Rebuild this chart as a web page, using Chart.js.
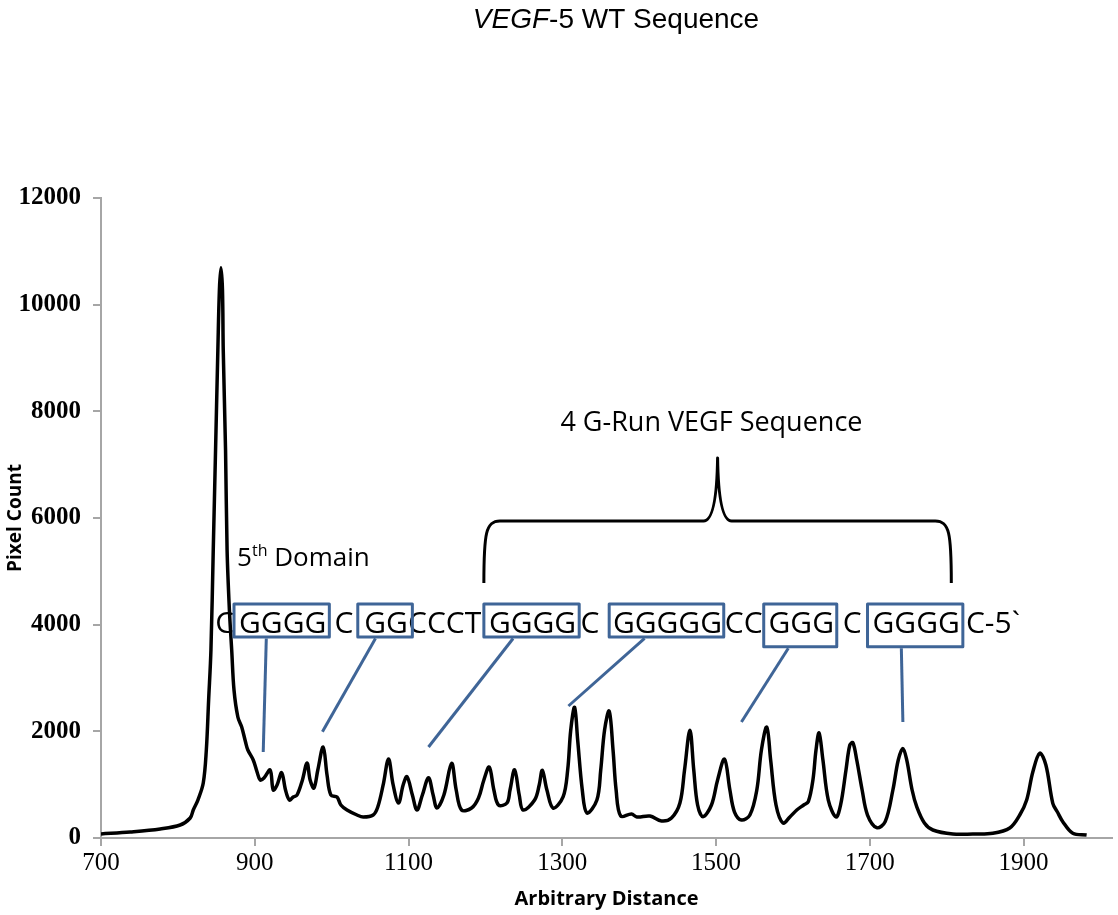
<!DOCTYPE html>
<html>
<head>
<meta charset="utf-8">
<script src="https://cdn.jsdelivr.net/npm/chart.js@4.4.0/dist/chart.umd.min.js"></script>
<style>
  html, body { margin: 0; padding: 0; background: #fff; }
  #wrap { width: 1118px; height: 915px; }
</style>
</head>
<body>
<div id="wrap"><canvas id="gel-chart" width="1118" height="915"></canvas></div>
<script>
// Densitometry trace
const distance = [
    700, 738, 777, 803, 816, 820, 826, 833, 837, 840,
    843, 846, 849, 852, 854, 856, 858, 859, 862, 864,
    867, 870, 873, 878, 883, 888, 891, 898, 903, 907,
    912, 920, 924, 929, 935, 940, 945, 950, 955, 962,
    968, 972, 977, 982, 989, 994, 999, 1007, 1012, 1020,
    1033, 1041, 1054, 1060, 1067, 1074, 1080, 1087, 1093, 1098,
    1105, 1111, 1118, 1126, 1132, 1137, 1146, 1156, 1162, 1169,
    1182, 1191, 1198, 1205, 1211, 1217, 1228, 1232, 1238, 1244,
    1249, 1264, 1270, 1274, 1280, 1288, 1301, 1307, 1311, 1316,
    1320, 1326, 1332, 1345, 1350, 1355, 1361, 1366, 1370, 1376,
    1390, 1397, 1414, 1429, 1442, 1453, 1459, 1466, 1471, 1476,
    1483, 1494, 1502, 1511, 1518, 1524, 1533, 1544, 1553, 1559,
    1566, 1571, 1578, 1587, 1596, 1605, 1614, 1620, 1626, 1630,
    1634, 1639, 1646, 1656, 1662, 1669, 1674, 1678, 1683, 1690,
    1697, 1709, 1720, 1730, 1737, 1743, 1748, 1755, 1761, 1771,
    1782, 1808, 1834, 1860, 1882, 1895, 1904, 1912, 1921, 1929,
    1938, 1944, 1951, 1964, 1982
];
const pixelCount = [
    75, 112, 169, 244, 375, 525, 712, 1031, 1650, 2588,
    3525, 5400, 7275, 9150, 10275, 10690, 10275, 9150, 7275, 5400,
    4275, 3525, 2775, 2269, 2081, 1800, 1650, 1463, 1238, 1088,
    1125, 1275, 900, 994, 1225, 900, 712, 769, 806, 1088,
    1406, 1088, 938, 1275, 1706, 1181, 806, 769, 619, 525,
    431, 394, 431, 581, 994, 1480, 994, 656, 994, 1150,
    806, 525, 806, 1130, 806, 562, 806, 1400, 900, 525,
    562, 750, 1088, 1330, 900, 619, 656, 900, 1280, 806,
    525, 712, 994, 1270, 900, 562, 769, 1275, 2025, 2450,
    1838, 900, 469, 712, 1275, 2025, 2380, 1650, 900, 412,
    450, 394, 412, 319, 375, 656, 1275, 2020, 1275, 619,
    400, 619, 1088, 1480, 900, 487, 337, 431, 900, 1650,
    2080, 1463, 619, 281, 394, 525, 619, 681, 1088, 1650,
    1970, 1463, 712, 394, 619, 1275, 1744, 1787, 1463, 900,
    431, 193, 306, 900, 1463, 1680, 1463, 900, 587, 281,
    150, 75, 75, 88, 187, 431, 712, 1238, 1590, 1369,
    650, 487, 306, 88, 56
];

const xTicks = [700, 900, 1100, 1300, 1500, 1700, 1900];
const yTicks = [0, 2000, 4000, 6000, 8000, 10000, 12000];

const titleItalic = 'VEGF';
const titleRest = '-5 WT Sequence';
const braceLabel = '4 G-Run VEGF Sequence';

// Sequence drawn over the trace, G-runs boxed (positions are in data units)
const gRuns = ['GGGG', 'GG', 'GGGG', 'GGGGG', 'GGG', 'GGGG'];
const gRunLeft = [873, 1034, 1198, 1361, 1562, 1697];
const gRunRight = [997, 1105, 1322, 1510, 1657, 1821];
const gRunBottom = [3769, 3769, 3769, 3769, 3587, 3587];
const gRunPeakX = [911, 988, 1126, 1308, 1533, 1743];
const gRunPeakY = [1612, 1993, 1706, 2475, 2175, 2175];
const gRunTopX = [915, 1057, 1236, 1407, 1594, 1741];
const spacers = ['C', 'C', 'CCCT', 'C', 'CC', 'C'];
const spacerX = [861, 1016, 1147, 1336, 1536, 1677];

const BLUE = '#3F6597';
const AXIS_GREY = '#A6A6A6';

/**
 * Draws the title, the brace, the sequence and its callout lines
 */
const annotationPlugin = {
    id: 'gelAnnotations',
    afterDatasetsDraw(chart) {
        const ctx = chart.ctx;
        const X = v => chart.scales.x.getPixelForValue(v);
        const Y = v => chart.scales.y.getPixelForValue(v);

        ctx.save();
        ctx.fillStyle = '#000';
        ctx.textBaseline = 'alphabetic';

        // title with italic gene name
        ctx.font = 'italic 28px "Liberation Sans"';
        const w1 = ctx.measureText(titleItalic).width;
        ctx.font = '28px "Liberation Sans"';
        const w2 = ctx.measureText(titleRest).width;
        let tx = 616 - (w1 + w2) / 2;
        ctx.font = 'italic 28px "Liberation Sans"';
        ctx.fillText(titleItalic, tx, 28);
        ctx.font = '28px "Liberation Sans"';
        ctx.fillText(titleRest, tx + w1, 28);

        // brace label
        ctx.textAlign = 'center';
        ctx.font = '27px "Open Sans"';
        ctx.fillText(braceLabel, X(1494), Y(7631));

        // brace
        const xl = X(1198), xr = X(1806), xm = X(1502);
        const yb = Y(5944), ye = Y(4781), yt = Y(7125);
        ctx.strokeStyle = '#000';
        ctx.lineWidth = 3;
        ctx.lineJoin = 'round';
        ctx.beginPath();
        ctx.moveTo(xl, ye);
        ctx.bezierCurveTo(xl, yb + 12, xl + 2, yb, xl + 16, yb);
        ctx.lineTo(xm - 14, yb);
        ctx.quadraticCurveTo(xm - 1, yb, xm, yt);
        ctx.quadraticCurveTo(xm + 1, yb, xm + 14, yb);
        ctx.lineTo(xr - 16, yb);
        ctx.bezierCurveTo(xr - 2, yb, xr, yb + 12, xr, ye);
        ctx.stroke();

        // 5th Domain label
        ctx.textAlign = 'left';
        let dx = X(877);
        const dy = Y(5100);
        ctx.font = '26px "Open Sans"';
        ctx.fillText('5', dx, dy);
        dx += ctx.measureText('5').width;
        ctx.font = '16px "Open Sans"';
        ctx.fillText('th', dx, dy - 10);
        dx += ctx.measureText('th').width;
        ctx.font = '26px "Open Sans"';
        ctx.fillText(' Domain', dx, dy);

        // sequence
        const baseY = Y(3844);
        ctx.font = '30px "Open Sans"';
        ctx.textAlign = 'center';
        spacers.forEach((s, i) => ctx.fillText(s, X(spacerX[i]), baseY));
        ctx.textAlign = 'left';
        ctx.fillText('C-5`', X(1825), baseY);
        ctx.textAlign = 'center';
        gRuns.forEach((g, i) => {
            ctx.fillText(g, (X(gRunLeft[i]) + X(gRunRight[i])) / 2 + 1, baseY);
        });

        // boxes and callout lines
        ctx.strokeStyle = BLUE;
        ctx.lineWidth = 3;
        ctx.lineCap = 'butt';
        gRuns.forEach((g, i) => {
            const bx = X(gRunLeft[i]), bw = X(gRunRight[i]) - bx;
            const by = Y(4388), bh = Y(gRunBottom[i]) - by;
            ctx.strokeRect(bx, by, bw, bh);
            ctx.beginPath();
            ctx.moveTo(X(gRunTopX[i]), Y(gRunBottom[i]) + 1.5);
            ctx.lineTo(X(gRunPeakX[i]), Y(gRunPeakY[i]));
            ctx.stroke();
        });

        ctx.restore();
    }
};

function initGelChart() {
    const canvas = document.getElementById('gel-chart');
    const context = canvas.getContext('2d');

    const points = distance.map((d, i) => ({ x: d, y: pixelCount[i] }));

    new Chart(context, {
        type: 'line',
        data: {
            datasets: [{
                label: 'Pixel Count',
                data: points,
                borderColor: '#000',
                borderWidth: 3.5,
                pointRadius: 0,
                tension: 0.35,
                fill: false
            }]
        },
        options: {
            responsive: false,
            animation: false,
            layout: {
                padding: { top: 198, right: 6, left: 0, bottom: 0 }
            },
            plugins: {
                legend: { display: false },
                tooltip: { enabled: false }
            },
            scales: {
                x: {
                    type: 'linear',
                    min: 700,
                    max: 2015,
                    afterBuildTicks: axis => { axis.ticks = xTicks.map(v => ({ value: v })); },
                    afterFit: axis => { axis.height = 77; },
                    grid: {
                        drawOnChartArea: false,
                        tickLength: 8,
                        color: AXIS_GREY,
                        lineWidth: 2
                    },
                    border: { color: AXIS_GREY, width: 2 },
                    ticks: {
                        autoSkip: false,
                        maxRotation: 0,
                        padding: 2,
                        color: '#000',
                        font: { family: '"Liberation Serif"', size: 25 },
                        callback: value => String(value)
                    },
                    title: {
                        display: true,
                        text: 'Arbitrary Distance',
                        color: '#000',
                        font: { family: '"Open Sans"', size: 20, weight: 'bold' },
                        padding: { top: 0, bottom: 4 }
                    }
                },
                y: {
                    min: 0,
                    max: 12000,
                    afterBuildTicks: axis => { axis.ticks = yTicks.map(v => ({ value: v })); },
                    afterFit: axis => { axis.width = 101; },
                    grid: {
                        drawOnChartArea: false,
                        tickLength: 8,
                        color: AXIS_GREY,
                        lineWidth: 2
                    },
                    border: { color: AXIS_GREY, width: 2 },
                    ticks: {
                        padding: 12,
                        color: '#000',
                        font: { family: '"Liberation Serif"', size: 25, weight: 'bold' },
                        callback: value => String(value)
                    },
                    title: {
                        display: true,
                        text: 'Pixel Count',
                        color: '#000',
                        font: { family: '"Open Sans"', size: 19, weight: 'bold' },
                        padding: { top: 4, bottom: 0 }
                    }
                }
            }
        },
        plugins: [annotationPlugin]
    });
}

initGelChart();
</script>
</body>
</html>
